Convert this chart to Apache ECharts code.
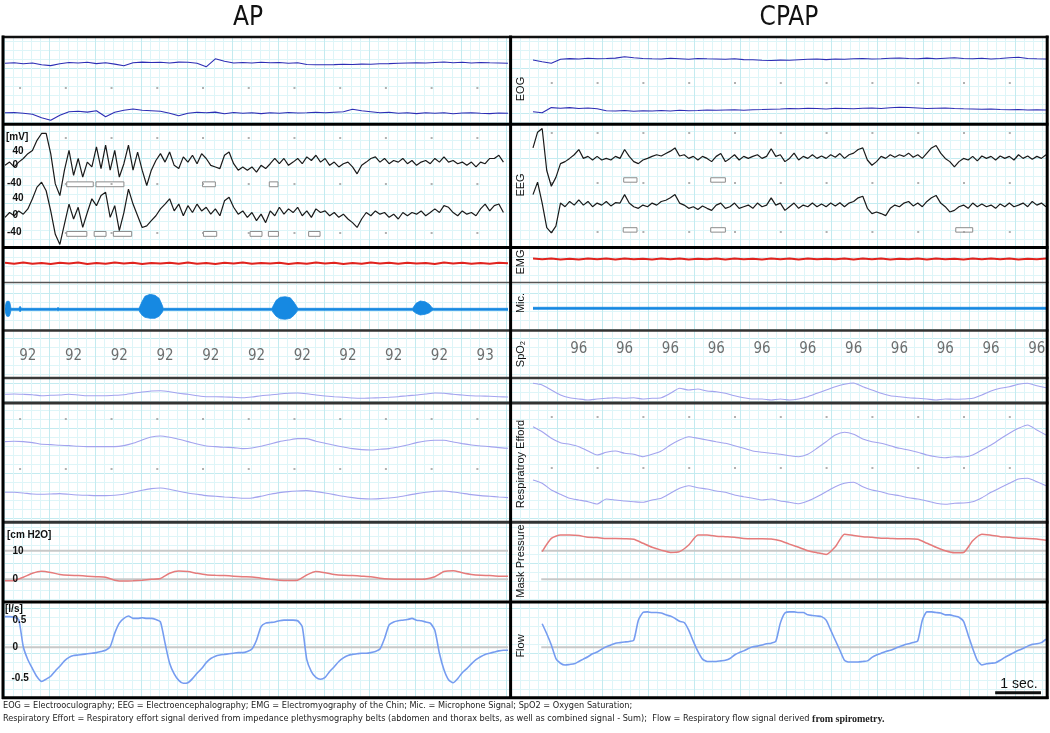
<!DOCTYPE html>
<html><head><meta charset="utf-8">
<script src="https://cdn.jsdelivr.net/npm/echarts@6.0.0/dist/echarts.min.js"></script>
<style>html,body{margin:0;padding:0;background:#fff}#c{width:1050px;height:733px}</style>
</head><body><div id="c"></div>
<script>
// ---------------- DATA ----------------
const secondTicks = [0,1,2,3,4,5,6,7,8,9,10];
const stepEOG = 0.2, stepEEG = 0.1, stepEMG = 0.2, stepResp = 0.2, stepMask = 0.2, stepFlow = 0.1;

const eogLeftTop = [0,0.5,-0.5,0.3,-1.5,-2.3,-0.5,0.8,0.3,1,-0.3,0.5,-0.8,-2.5,0.5,1.2,0.8,1,0.3,1.2,1,0,-3.5,4.5,2,0.3,0.8,0.3,1,0.5,0.8,0,0.5,-1.2,-1.5,-1.5,-1.3,-1,-1.2,-0.8,-1,-0.5,-0.3,0,0.3,0.5,0.3,0.8,1.3,0.5,1,0.3,0.8,0.5,0.3,0];
const eogLeftBottom = [0.5,0.8,0,-1,-4.5,-7,-2,1.5,2,1.2,2.5,-3.5,1,3,4.3,3,2.5,2,0,-2.5,0,1,0.5,1.2,-0.5,0.8,0,0.5,-0.3,0.5,0,0.8,0.3,0.5,1,0.5,1,1.5,4,2.5,1.5,0.5,1,0,0.5,-0.3,0.5,0,0.5,-0.5,0.3,0.5,0,-0.3,0.3,0];
const eogRightTop = [-0.7,-2.4,-4,0,0.7,0.3,1,0.5,0.8,1.2,2.5,1.5,0.8,0.5,0.3,1,0.5,0,0.8,0.5,0.3,0,0.5,-0.3,-0.5,-1,-1.2,-0.8,-1,-0.5,0,0.3,-0.3,0.3,0,0.5,0.8,0.3,0.5,1,1.3,0.8,0.5,1.2,0.5,1,1.5,0.8,0.5,1,0.3,0.8,1.5,2,0.8,0.5,0.3];
const eogRightBottom = [-1.7,-2.8,2.4,1.7,2.4,1.5,2,1.2,-0.7,-1,-0.5,-1.2,-0.8,-1,-0.5,-1,-0.3,-0.8,-0.5,0,-0.3,0,0.3,-0.2,0.3,0.5,0.8,1,1.5,1.2,1.7,1.5,1,1.8,1.5,1.2,1.7,2,1.5,2.3,2.8,2.5,2,1.5,1.8,2,1.5,1.2,1,0.8,1,0.5,0.3,0.5,0,0.3,0];

const eegLeftTop = [0,8,-4,8,17,29,37,62,79,79, 29,-46,-75,-12,37,-25,17,-29,8,-4, 46,-8,50,-12,37,-29,4,50,-12,33, -12,-50,-12,12,29,8,33,0,-8,21, 8,25,4,29,17,0,-4,-8,25,33, 4,-12,-4,-12,-4,-17,0,-8,4,17, 4,17,0,8,17,4,21,12,25,8, 17,0,8,-4,4,8,-4,-21,0,8, 17,21,8,17,4,12,8,17,4,12, 0,8,12,4,17,8,21,8,12,4, 8,0,8,-4,8,4,17,17,25,8];
const eegLeftBottom = [-4,8,0,12,4,17,42,71,83,62, 12,-46,-71,-21,29,-8,21,-29,8,42, 25,50,58,-4,25,-37,8,66,29,0, -29,-25,-12,0,17,29,42,12,29,0, 25,8,29,12,21,4,17,0,37,46, 21,4,12,-4,8,-12,4,-17,12,0, 21,4,17,8,21,0,12,-4,17,8, 12,0,8,-4,4,-8,-17,-29,-8,8, 0,12,4,8,-4,4,-8,8,0,8, 4,12,0,8,17,8,25,21,8,0, 12,4,8,0,17,29,12,25,29,8];
const eegRightTop = [30,69,78,-26,-65,-43,-9,-4,4,13, 26,4,9,0,9,0,4,0,9,4, 26,9,-4,-9,0,4,9,13,10,16, 22,30,10,13,4,9,0,9,4,-4, 9,16,-4,4,13,0,9,4,9,13, 4,9,28,9,13,-4,4,17,0,9, 4,13,4,10,4,13,7,16,4,13, 17,26,30,0,-13,-4,9,4,13,7, 13,9,17,7,13,4,17,30,36,17, 4,-4,-17,-4,4,0,9,-2,10,4, 9,0,10,4,9,0,13,4,10,2, 9,4,13];
const eegRightBottom = [30,61,9,-52,-65,-48,9,0,13,4, 17,4,13,0,9,4,13,2,10,9, 30,9,0,-4,4,0,9,4,13,16, 22,30,9,4,-4,0,-7,2,-4,-9, 4,9,-4,0,9,-4,0,4,-4,9, 0,4,22,4,9,-9,0,9,-4,4, 0,9,0,7,0,9,2,10,0,9, 13,22,26,-4,-17,-13,-17,-22,-4,4, 0,9,13,2,9,0,13,22,28,9, 0,-13,-9,0,4,-4,9,0,7,0, 4,-4,7,0,9,0,4,9,0,13, 4,9,0];
const eegBoxesLeftTop = [[1.35,1.93],[1.99,2.60],[4.32,4.60],[5.78,5.97]];
const eegBoxesLeftBottom = [[1.35,1.79],[1.95,2.21],[2.37,2.77],[4.34,4.63],[5.36,5.62],[5.76,5.98],[6.64,6.89]];
const eegBoxesRightTop = [[1.98,2.27],[3.88,4.20]];
const eegBoxesRightBottom = [[1.97,2.27],[3.88,4.20],[9.23,9.60]];

const emgLeft = [0.6,-0.4,0.8,-0.5,0.3,-0.7,0.5,-0.3,0.9,-0.6, 0.4,-0.5,0.7,-0.2,0.5,-0.8,0.4,-0.3,0.6,-0.5, 0.8,-0.4,0.3,-0.6,0.5,-0.3,0.7,-0.5,0.4,-0.2, 0.6,-0.7,0.3,-0.4,0.8,-0.3,0.5,-0.6,0.4,-0.5, 0.7,-0.3,0.5,-0.4,0.6,-0.2,0.4,-0.6,0.7,-0.3, 0.5,-0.5,0.4,-0.4,0.6,0];
const emgRight = [0.4,-0.3,0.5,-0.4,0.3,-0.5,0.6,-0.2,0.4,-0.4, 0.5,-0.3,0.3,-0.5,0.4,-0.2,0.6,-0.4,0.3,-0.3, 0.5,-0.4,0.4,-0.2,0.3,-0.5,0.5,-0.3,0.4,-0.4, 0.6,-0.3,0.3,-0.2,0.5,-0.4,0.4,-0.3,0.5,-0.5, 0.3,-0.2,0.4,-0.4,0.6,-0.3,0.3,-0.4,0.5,-0.2, 0.4,-0.3,0.5,-0.4,0.3,-0.2,0.4];

const micTimesLeft = [0,0.02,0.04,0.09,0.11,0.13, 0.30,0.33,0.36, 1.13,1.16,1.19, 2.93,2.95,3.00,3.06,3.17,3.28,3.37,3.44,3.46, 5.84,5.86,5.93,6.02,6.13,6.24,6.32,6.39,6.41, 8.91,8.93,8.99,9.08,9.19,9.28,9.34,9.37, 11.0];
const micUpLeft   = [1,6,8,8,6,1, 1,3,1, 1,1.8,1, 1,3,8,13,15,14,11,4,1, 1,3,9,12,12.6,11.5,7,2,1, 1,2,6,8.3,7.5,5,1.5,1, 1];
const micDownLeft = [1,5,7,7,5,1, 1,2.5,1, 1,1.5,1, 1,3,6,8,9,9,7,3,1, 1,3,7,9.5,10,9,6,2,1, 1,2,4,5.7,5,3.5,1.2,1, 1];
const micTimesRight = [0, 11.2];
const micUpRight = [1, 1];
const micDownRight = [1, 1];

const spo2LeftTimes = [0.5,1.5,2.5,3.5,4.5,5.5,6.5,7.5,8.5,9.5,10.5];
const spo2LeftValues = [92,92,92,92,92,92,92,92,92,92,93];
const spo2RightTimes = [1,2,3,4,5,6,7,8,9,10,11];
const spo2RightValues = [96,96,96,96,96,96,96,96,96,96,96];

const respSumLeft = [-3.8,-3.5,-3.8,-4.2,-5.2,-4.8,-4.5,-3.8,-4.5,-5.2, -5.2,-5.2,-4.8,-4.2,-2.8,-1.5,-0.5,-0.2,-1.2,-2.8, -3.8,-5.2,-6.2,-6.2,-6.5,-6.8,-7.2,-6.5,-5.2,-4.5, -3.5,-2.8,-2.5,-3.2,-4.5,-5.5,-6.2,-6.8,-7.5,-7.8, -7.5,-7.2,-6.8,-6.2,-5.2,-4.5,-3.5,-2.5,-2.8,-3.8, -4.5,-5.2,-5.5,-5.8,-6.2,-6.5];
const respThoraxLeft = [1.7,2,1.7,0.7,-1,-1.3,-2,-2.3,-3,-3.3, -3.3,-3.3,-3.3,-2.3,0,3.3,6.3,7.3,6,4, 1.7,-0.7,-2.7,-3.3,-4,-4.3,-5.3,-4.7,-3,-0.7, 1.7,3.3,4.7,4.7,2,0,-2,-3.7,-5.3,-6.3, -6.7,-6,-5.3,-3.7,-1.7,0.7,2.3,3,3,1.3, -0.3,-1.7,-2.7,-3.3,-4.3,-5];
const respAbdomenLeft = [1,1,0.3,-0.7,-1,-0.7,-0.3,-1,-1.7,-2, -2.3,-2.3,-2,-1,1,3,4.7,5.3,4,2, 0.3,-1,-2.3,-3,-3.7,-4.3,-5,-4.7,-3,-1, 0.7,1.7,2.3,2.7,1.7,0.3,-1.3,-3,-4.3,-5.3, -5.7,-5.3,-4.7,-3.7,-2,-0.3,1,2,2.3,1.3, 0,-1.3,-2.3,-3,-3.7,-4.3];
const respSumRight = [7.2,5.5,0.5,-4.5,-7.2,-8.5,-9.5,-8.5,-7.8,-7.2, -7.8,-7.2,-8.5,-7.8,-7.2,-2.8,2.2,0.5,1.5,-0.5, -1.2,-2.8,-5.2,-7.2,-8.5,-8.5,-9.5,-8.5,-9.5,-8.5, -6.2,-2.8,0.5,3.8,6.2,7.5,3.8,0.5,-2.8,-5.2, -6.2,-7.2,-7.8,-8.5,-9.5,-8.5,-8.8,-8.5,-7.8,-4.5, -0.5,2.2,3.8,6.2,7.2,4.8,2.8];
const respThoraxRight = [35.8,30.8,24.2,19.8,18.2,15.8,11.5,7.5,10.2,11.5, 9.2,8.2,5.8,8.2,11.5,17.5,22.5,25.8,24.2,22.5, 20.8,19.2,16.8,14.2,11.5,10.2,9.2,8.2,6.8,5.8, 8.2,14.2,20.8,27.5,30.2,28.2,23.5,20.8,19.2,16.8, 14.2,12.5,10.2,7.5,5.8,4.8,5.8,5.5,7.5,12.5, 17.5,23.5,29.2,34.2,37.5,32.5,27.5];
const respAbdomenRight = [-17.5,-20.8,-27.5,-31.8,-35.8,-37.5,-39.2,-41.5,-36.5,-37.5, -38.5,-39.2,-39.8,-37.5,-35.8,-30.8,-25.8,-23.2,-25.2,-26.5, -28.5,-29.8,-32.5,-34.2,-35.8,-37.5,-36.5,-38.5,-39.8,-41.2, -38.5,-34.2,-29.2,-24.2,-20.8,-19.8,-24.2,-27.5,-29.2,-31.8, -33.2,-35.2,-36.5,-38.5,-40.8,-41.8,-40.8,-40.5,-39.2,-35.2, -29.8,-25.2,-20.8,-16.5,-15.8,-19.2,-23.2];

const maskLeft = [-0.5,-0.4,0.7,2.1,2.8,2.4,1.7,1.4,1.3,1.1, 0.9,0.7,-0.3,-0.6,-0.5,-0.3,0,0.3,2.1,2.9, 2.7,2.1,1.6,1.4,1.3,1.1,0.9,0.8,0.4,0, -0.3,-0.4,-0.3,1.5,2.7,2.3,1.7,1.4,1.3,1.1, 0.9,0.4,0.1,0,0,0,0.1,0.9,2.7,3, 2.3,1.7,1.4,1.3,1.1,1.1];
const maskRight = [null,9.7,14.3,15.5,15.5,15.3,14.7,14.6,14.3,14.3, 14.2,14.0,12.6,11.2,10.2,9.4,9.7,12.0,15.5,15.5, 15.1,14.9,14.7,14.3,14.2,14.2,14.1,13.5,12.3,11.2, 10.0,9.3,8.7,11.4,15.8,15.3,14.9,14.7,14.4,14.3, 14.2,14.2,14.0,12.6,11.2,10.0,9.3,9.4,13.5,15.8, 15.4,14.9,14.7,14.4,14.3,14.1,13.7];
const maskRefLevels = [0, 10];

const flowLeft = [0.52,0.52,0.51,0.47,0.01,-0.21,-0.36,-0.50,-0.58,-0.54, -0.49,-0.40,-0.32,-0.23,-0.17,-0.14,-0.13,-0.12,-0.11,-0.10, -0.09,-0.07,-0.05,0.01,0.24,0.41,0.49,0.53,0.49,0.49, 0.50,0.49,0.49,0.47,0.43,0.07,-0.27,-0.45,-0.56,-0.61, -0.60,-0.53,-0.44,-0.36,-0.26,-0.19,-0.15,-0.13,-0.12,-0.11, -0.10,-0.09,-0.09,-0.07,-0.03,0.12,0.35,0.41,0.42,0.43, 0.45,0.46,0.46,0.46,0.45,0.35,-0.21,-0.41,-0.51,-0.54, -0.51,-0.41,-0.33,-0.24,-0.18,-0.14,-0.12,-0.11,-0.10,-0.10, -0.09,-0.07,-0.03,0.15,0.38,0.43,0.45,0.46,0.47,0.49, 0.46,0.45,0.43,0.41,0.29,-0.10,-0.38,-0.55,-0.60,-0.53, -0.43,-0.36,-0.28,-0.21,-0.16,-0.12,-0.10,-0.08,-0.06,-0.05,-0.05];
const flowRight = [null,null,0.40,0.23,0.04,-0.19,-0.27,-0.30,-0.29,-0.28, -0.24,-0.20,-0.16,-0.11,-0.08,-0.03,0.01,0.04,0.07,0.08, 0.09,0.10,0.12,0.46,0.59,0.60,0.59,0.59,0.58,0.55, 0.53,0.49,0.44,0.42,0.29,0.10,-0.07,-0.20,-0.24,-0.24, -0.24,-0.23,-0.22,-0.19,-0.13,-0.09,-0.06,-0.02,0.01,0.02, 0.04,0.06,0.07,0.10,0.41,0.58,0.60,0.60,0.59,0.59, 0.55,0.54,0.53,0.52,0.46,0.29,0.12,-0.05,-0.22,-0.25, -0.25,-0.25,-0.24,-0.23,-0.17,-0.13,-0.10,-0.07,-0.05,-0.02, 0.01,0.04,0.06,0.08,0.11,0.46,0.60,0.60,0.59,0.58, 0.55,0.55,0.53,0.51,0.44,0.21,-0.02,-0.22,-0.30,-0.28, -0.27,-0.26,-0.22,-0.17,-0.13,-0.09,-0.05,-0.02,0.02,0.05, 0.06,0.08,0.14];
const flowRefLevels = [0];
const scaleBarSeconds = 1;

// ---------------- LAYOUT / STYLE ----------------
const SANS = '"Liberation Sans", Arial, sans-serif';
const NARROW = '"Liberation Sans Narrow", "DejaVu Sans Condensed", "Liberation Sans", sans-serif';
const panels = [
  {left: 5, width: 503, tmax: 11, dotPhase: 0.33, refStart: 0},
  {left: 533, width: 513, tmax: 11.2, dotPhase: 0.41, refStart: 0.18}
];
const rows = {
  eog:  {top: 39,  height: 84,  min: -42,   max: 42},
  eeg:  {top: 125, height: 121, min: -180,  max: 120},
  emg:  {top: 248, height: 33,  min: -16.5, max: 16.5},
  mic:  {top: 283, height: 47,  min: 0,     max: 47},
  spo2: {top: 332, height: 45,  min: 0,     max: 45},
  rsum: {top: 379, height: 23,  min: -11.5, max: 11.5},
  resp: {top: 404, height: 117, min: -58.5, max: 58.5},
  mask: {top: 523, height: 78,  min: -7.6,  max: 19.7},
  flow: {top: 603, height: 94,  min: -0.842,max: 0.751}
};

const grids = [], xAxes = [], yAxes = [], series = [];
function addGrid(p, r) {
  const i = grids.length;
  grids.push({left: p.left, top: r.top, width: p.width, height: r.height});
  xAxes.push({type: 'value', gridIndex: i, min: 0, max: p.tmax, show: false});
  yAxes.push({type: 'value', gridIndex: i, min: r.min, max: r.max, show: false});
  return i;
}
function addBgGrid(left, width, tmax) {
  const i = grids.length, top = 37, height = 661;
  grids.push({left, top, width, height});
  const common = {axisLine: {show: false}, axisTick: {show: false}, axisLabel: {show: false},
    splitLine: {show: true, lineStyle: {color: '#c4ebf0', width: 1}},
    minorTick: {show: false, splitNumber: 5},
    minorSplitLine: {show: true, lineStyle: {color: '#def5f8', width: 1}}};
  xAxes.push(Object.assign({type: 'value', gridIndex: i, min: 0, max: tmax, interval: 1}, common));
  yAxes.push(Object.assign({type: 'value', gridIndex: i, min: 0, max: height, interval: 45}, common));
}
function sampled(values, step, offset) {
  const out = [];
  values.forEach((v, i) => { if (v !== null) out.push([+(i * step).toFixed(3), v + offset]); });
  return out;
}
function line(gi, data, color, width, extra) {
  series.push(Object.assign({type: 'line', xAxisIndex: gi, yAxisIndex: gi, data, symbol: 'none',
    silent: true, z: 5, lineStyle: {color, width}}, extra || {}));
}
function dots(gi, p, levels) {
  const d = [];
  levels.forEach(l => secondTicks.forEach(k => d.push([p.dotPhase + k, l])));
  series.push({type: 'scatter', xAxisIndex: gi, yAxisIndex: gi, data: d, symbol: 'rect', symbolSize: 2,
    itemStyle: {color: '#9c9c9c'}, silent: true, z: 3});
}
function boxes(list, off, lo, hi) {
  return {silent: true, itemStyle: {color: '#ffffff', borderColor: '#8c8c8c', borderWidth: 1},
    data: list.map(b => [{coord: [b[0], off + lo]}, {coord: [b[1], off + hi]}])};
}
// microphone envelope: filled band between base+up and base-down, projected through the axes
function mic(gi, times, up, dn, base) {
  series.push({type: 'custom', xAxisIndex: gi, yAxisIndex: gi, silent: true, z: 5, clip: true,
    data: [[times[0], base]],
    renderItem: (params, api) => {
      const topPts = times.map((t, i) => api.coord([t, base + up[i]]));
      const botPts = times.map((t, i) => api.coord([t, base - dn[i]])).reverse();
      return {type: 'polygon', shape: {points: topPts.concat(botPts)},
        style: {fill: '#1689e2', stroke: '#1689e2', lineWidth: 0.8}};
    }});
}
function spo2(gi, times, vals, level) {
  series.push({type: 'scatter', xAxisIndex: gi, yAxisIndex: gi, silent: true, symbolSize: 1,
    itemStyle: {color: 'rgba(0,0,0,0)'}, data: times.map((t, i) => [t, level, vals[i]]),
    label: {show: true, position: 'inside', formatter: q => String(q.value[2]), color: '#4a4a4a',
      fontSize: 15, fontFamily: NARROW}, z: 5});
}
function refLines(gi, p, levels) {
  levels.forEach(v => line(gi, [[p.refStart, v], [p.tmax, v]], '#c8c8c8', 2, {z: 2}));
}

addBgGrid(4, 506, 506 / 45.7);
addBgGrid(511, 536, 536 / 45.8);

const P = panels;
const sets = [
  {p: P[0], eog: [eogLeftTop, eogLeftBottom], eogOff: [17.7, -32.3], eogDot: [-7],
   eeg: [eegLeftTop, eegLeftBottom], eegOff: [20, -105], eegDot: [87.8, -26.3, -147.8],
   box: [[eegBoxesLeftTop, -53, -41], [eegBoxesLeftBottom, -51, -39]],
   emg: emgLeft, emgOff: 1.2, mic: [micTimesLeft, micUpLeft, micDownLeft], micBase: 20.7,
   spo2: [spo2LeftTimes, spo2LeftValues], spo2Level: 21,
   rsum: respSumLeft, resp: [respThoraxLeft, respAbdomenLeft], respOff: [19.2, -30.8], respDot: [43.5, -6.5],
   mask: maskLeft, flow: flowLeft},
  {p: P[1], eog: [eogRightTop, eogRightBottom], eogOff: [21.7, -29], eogDot: [-2],
   eeg: [eegRightTop, eegRightBottom], eegOff: [33.2, -82.6], eegDot: [100.2, -23.8, -145.3],
   box: [[eegBoxesRightTop, -55, -44], [eegBoxesRightBottom, -63, -52]],
   emg: emgRight, emgOff: 5.5, mic: [micTimesRight, micUpRight, micDownRight], micBase: 21.7,
   spo2: [spo2RightTimes, spo2RightValues], spo2Level: 28,
   rsum: respSumRight, resp: [respThoraxRight, respAbdomenRight], respOff: [0, 0], respDot: [45.5, -5.5],
   mask: maskRight, flow: flowRight}
];
const flowGrids = [];
sets.forEach((s, si) => {
  const p = s.p;
  let g = addGrid(p, rows.eog);
  dots(g, p, s.eogDot);
  s.eog.forEach((arr, j) => line(g, sampled(arr, stepEOG, s.eogOff[j]), '#2d2db4', 1.1));
  g = addGrid(p, rows.eeg);
  dots(g, p, s.eegDot);
  s.eeg.forEach((arr, j) => line(g, sampled(arr, stepEEG, s.eegOff[j]), '#1a1a1a', 1.2,
    {markArea: boxes(s.box[j][0], s.eegOff[j], s.box[j][1], s.box[j][2])}));
  g = addGrid(p, rows.emg);
  line(g, sampled(s.emg, stepEMG, s.emgOff), '#e0231e', 2);
  g = addGrid(p, rows.mic);
  mic(g, s.mic[0], s.mic[1], s.mic[2], s.micBase);
  g = addGrid(p, rows.spo2);
  spo2(g, s.spo2[0], s.spo2[1], s.spo2Level);
  g = addGrid(p, rows.rsum);
  line(g, sampled(s.rsum, stepResp, 0), '#a3a3ee', 1.1, {smooth: 0.2});
  g = addGrid(p, rows.resp);
  dots(g, p, s.respDot);
  s.resp.forEach((arr, j) => line(g, sampled(arr, stepResp, s.respOff[j]), '#a3a3ee', 1.1, {smooth: 0.2}));
  g = addGrid(p, rows.mask);
  refLines(g, p, maskRefLevels);
  line(g, sampled(s.mask, stepMask, 0), '#e57b7b', 1.5, {smooth: 0.2});
  g = addGrid(p, rows.flow);
  refLines(g, p, flowRefLevels);
  line(g, sampled(s.flow, stepFlow, 0), '#769cf0', 1.6, {smooth: 0.2});
  flowGrids.push(g);
});
// 1-second scale bar in the CPAP flow panel
line(flowGrids[1], [[10.09, -0.77], [10.09 + scaleBarSeconds, -0.77]], '#111', 3, {z: 6});

// ---------------- GRAPHIC: frame + texts ----------------
const G = [];
function hline(y, color, w) { G.push({type: 'line', z: 100, shape: {x1: 2, y1: y, x2: 1048.5, y2: y}, style: {stroke: color, lineWidth: w}}); }
function vline(x) { G.push({type: 'line', z: 100, shape: {x1: x, y1: 35.5, x2: x, y2: 699}, style: {stroke: '#000', lineWidth: 3}}); }
hline(37, '#111', 2.5); hline(124.3, '#000', 3); hline(247.5, '#000', 3); hline(282.5, '#555', 1.6);
hline(330.5, '#333', 2.5); hline(378, '#3a3a3a', 2.5); hline(403, '#333', 3); hline(522.3, '#333', 3);
hline(602, '#000', 3); hline(697.8, '#000', 3);
vline(3); vline(510.6); vline(1047.2);
function txt(x, y, text, font, align, extra) {
  G.push(Object.assign({type: 'text', z: 101, x, y, style: {text, font, fill: '#111', align: align || 'left', verticalAlign: 'middle'}}, extra || {}));
}
txt(248, 18, 'AP', '26px ' + NARROW, 'center');
txt(789, 18, 'CPAP', '26px ' + NARROW, 'center');
const B = 'bold 10px ' + SANS;
[['[mV]', 6, 137], ['40', 12.5, 151], ['0', 12.5, 165], ['-40', 7, 183], ['40', 12.5, 198], ['0', 12.5, 215], ['-40', 7, 232],
 ['[cm H2O]', 7, 535], ['10', 12.5, 551], ['0', 12.5, 579],
 ['[l/s]', 5, 609], ['0.5', 12.5, 620], ['0', 12.5, 647], ['-0.5', 11.5, 678]].forEach(a => txt(a[1], a[2], a[0], B));
[['EOG', 89], ['EEG', 185], ['EMG', 262], ['Mic.', 303], ['SpO₂', 354], ['Respiratroy Efford', 464], ['Mask Pressure', 561], ['Flow', 646]]
  .forEach(a => txt(521, a[1], a[0], '11px ' + SANS, 'center', {rotation: Math.PI / 2}));
txt(1019, 684, '1 sec.', '14px ' + SANS, 'center');
G.push({type: 'text', z: 101, x: 3, y: 706, style: {text: 'EOG = Electrooculography; EEG = Electroencephalography; EMG = Electromyography of the Chin; Mic. = Microphone Signal; SpO2 = Oxygen Saturation;', font: '9.1px ' + NARROW, fill: '#222', verticalAlign: 'middle'}});
G.push({type: 'text', z: 101, x: 3, y: 719, style: {text: '{a|Respiratory Effort = Respiratory effort signal derived from impedance plethysmography belts (abdomen and thorax belts, as well as combined signal - Sum);  Flow = Respiratory flow signal derived }{b|from spirometry.}',
  verticalAlign: 'middle', rich: {a: {font: '9.1px ' + NARROW, fill: '#222'}, b: {font: 'bold 10px "Liberation Serif", serif', fill: '#222'}}}});

const chart = echarts.init(document.getElementById('c'));
chart.setOption({
  animation: false,
  backgroundColor: '#ffffff',
  grid: grids, xAxis: xAxes, yAxis: yAxes, series,
  graphic: G
});
</script></body></html>
